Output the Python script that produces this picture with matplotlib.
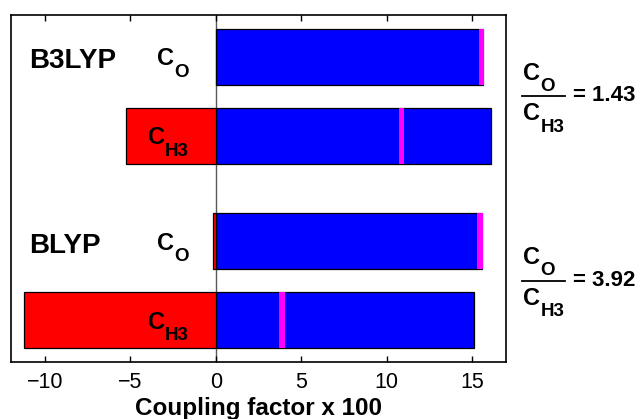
import matplotlib
matplotlib.use('Agg')
import matplotlib.pyplot as plt
from matplotlib.transforms import offset_copy

plt.rcParams['font.family'] = ['Liberation Sans', 'DejaVu Sans']

# bars, top to bottom
methods = ['B3LYP', 'BLYP']
atoms = ['O', 'H3']
ypos = [3.33, 2.33, 1.0, 0.0]
pos_part = [15.65, 16.11, 15.6, 15.11]      # blue
neg_part = [0.0, -5.29, -0.19, -11.23]      # red
net = [15.57, 10.87, 15.47, 3.88]           # magenta marker
ratios = ['1.43', '3.92']

fig = plt.figure(figsize=(6.43, 4.19), dpi=100)
ax = fig.add_axes([11/643, 57/419, 495/643, 347/419])

ax.axvline(0, color='0.35', lw=1, zorder=1)
ax.barh(ypos, pos_part, height=0.7, color='blue', edgecolor='black', lw=0.9, zorder=2)
for y, v in zip(ypos, neg_part):
    if v != 0:
        ax.barh(y, v, height=0.7, color='red', edgecolor='black', lw=0.9, zorder=2)
ax.barh(ypos, 0.33, left=[n - 0.165 for n in net], height=0.7, color='magenta', lw=0, zorder=3)

ax.set_xlim(-12, 17)
ax.set_ylim(-0.53, 3.86)
ax.set_xticks([-10, -5, 0, 5, 10, 15])
ax.set_yticks([])
ax.tick_params(axis='x', direction='in', top=True, length=4, width=1, pad=7, labelsize=15.5)
for s in ax.spines.values():
    s.set_linewidth(1.2)
ax.set_xlabel('Coupling factor x 100', fontsize=17.5, fontweight='bold', labelpad=3)


def sub_label(x, y, main, sub, dy=-8.5):
    t1 = offset_copy(ax.transData, fig, x=0, y=dy, units='dots')
    t2 = offset_copy(ax.transData, fig, x=17.5, y=dy - 11.5, units='dots')
    ax.text(x, y, main, transform=t1, fontsize=17, fontweight='bold',
            va='baseline', ha='left', clip_on=False)
    ax.text(x, y, sub, transform=t2, fontsize=13.5, fontweight='bold',
            va='baseline', ha='left', clip_on=False)


# method names and atom labels
for i, m in enumerate(methods):
    yo, yh = ypos[2 * i], ypos[2 * i + 1]
    t = offset_copy(ax.transData, fig, x=0, y=-11.5, units='dots')
    ax.text(-10.95, yo, m, transform=t, fontsize=20, fontweight='bold', va='baseline')
    sub_label(-3.45, yo, 'C', atoms[0])
    sub_label(-4.0, yh, 'C', atoms[1])

    # ratio fraction on the right
    ymid = (yo + yh) / 2
    sub_label(18.0, ymid, 'C', atoms[0], dy=16.7)
    sub_label(18.0, ymid, 'C', atoms[1], dy=-24)
    ax.plot([17.94, 20.45], [ymid, ymid], color='black', lw=1.3, clip_on=False)
    t = offset_copy(ax.transData, fig, x=0, y=-5, units='dots')
    ax.text(20.93, ymid, '= ' + ratios[i], transform=t, fontsize=16, fontweight='bold',
            va='baseline', ha='left', clip_on=False)

fig.savefig('out.png', dpi=100)
